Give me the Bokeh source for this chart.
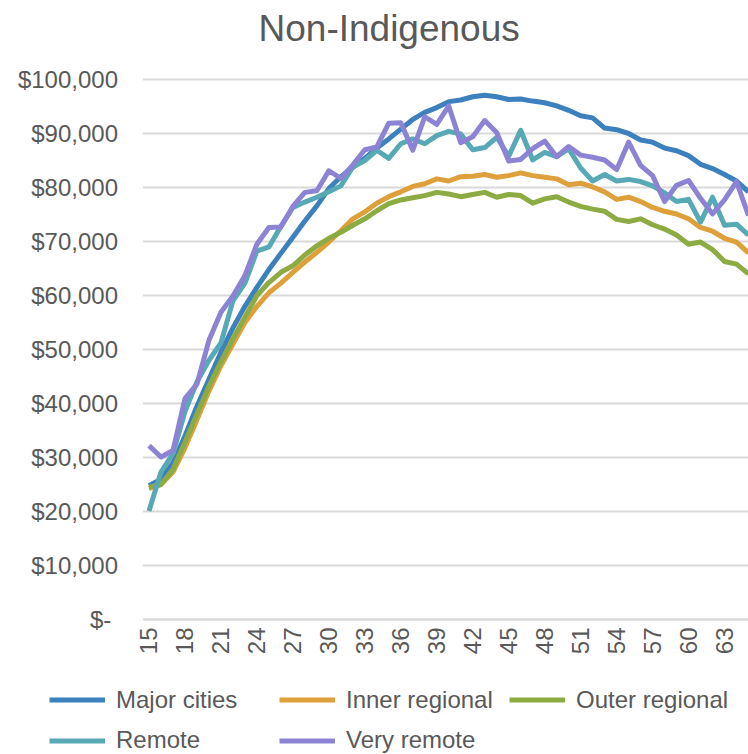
from bokeh.plotting import figure
from bokeh.models import FixedTicker, NumeralTickFormatter, Legend, LegendItem, Title
from bokeh.embed import file_html
from bokeh.resources import INLINE
import math

ages = [15, 16, 17, 18, 19, 20, 21, 22, 23, 24, 25, 26, 27, 28, 29, 30, 31, 32, 33, 34,
        35, 36, 37, 38, 39, 40, 41, 42, 43, 44, 45, 46, 47, 48, 49, 50, 51, 52, 53, 54,
        55, 56, 57, 58, 59, 60, 61, 62, 63, 64, 65]

major_cities = [24800, 26000, 29000, 34000, 39500, 44500, 49500, 54000, 58000, 61500,
                64800, 67800, 70800, 73800, 76600, 79800, 82000, 83700, 85400, 87300,
                89000, 90800, 92600, 93900, 94800, 95900, 96200, 96800, 97100, 96800,
                96300, 96400, 96000, 95700, 95100, 94300, 93300, 92900, 91000, 90700,
                90000, 88800, 88400, 87300, 86800, 85900, 84300, 83500, 82400, 81200, 79200]

inner_regional = [24300, 25000, 27300, 31800, 37000, 42300, 47000, 51000, 55000, 58000,
                  60500, 62300, 64300, 66200, 68000, 69900, 72000, 74200, 75500, 77100,
                  78300, 79200, 80200, 80700, 81600, 81200, 82000, 82100, 82400, 81900,
                  82200, 82700, 82200, 81900, 81600, 80500, 80800, 80100, 79200, 77800,
                  78200, 77400, 76300, 75600, 75100, 74200, 72600, 71900, 70600, 69900, 67900]

outer_regional = [24500, 25000, 27800, 32800, 38000, 43200, 47700, 52000, 56000, 60000,
                  62400, 64300, 65500, 67500, 69200, 70600, 71700, 73000, 74200, 75700,
                  77000, 77700, 78100, 78500, 79100, 78800, 78300, 78700, 79100, 78200,
                  78700, 78500, 77100, 77900, 78300, 77300, 76500, 76000, 75600, 74100,
                  73700, 74200, 73100, 72300, 71200, 69500, 69900, 68500, 66300, 65800, 64000]

remote = [20100, 27300, 30700, 38500, 44000, 48000, 51200, 59000, 62300, 68200,
          69000, 72800, 76300, 77300, 78200, 79200, 80300, 83800, 85000, 86900,
          85400, 88100, 89000, 88100, 89600, 90400, 89900, 87000, 87400, 89300,
          85800, 90600, 85100, 86500, 85700, 87200, 83600, 81200, 82400, 81200,
          81500, 81100, 80300, 79000, 77400, 77800, 73600, 78200, 73000, 73200, 71200]

very_remote = [32200, 30100, 31300, 40900, 43600, 51700, 56900, 59900, 63700, 69500,
               72600, 72700, 76500, 79100, 79400, 83100, 81700, 84200, 87000, 87500,
               91900, 92000, 86900, 93100, 91700, 95100, 88300, 89400, 92400, 90200,
               84900, 85200, 87200, 88600, 85700, 87600, 86000, 85600, 85100, 83300,
               88400, 84100, 82200, 77400, 80400, 81300, 78000, 75100, 77700, 81100, 74800]

series_names = ["Major cities", "Inner regional", "Outer regional", "Remote", "Very remote"]
series_values = [major_cities, inner_regional, outer_regional, remote, very_remote]
colors = ["#3C80BD", "#DDA03A", "#8CAB42", "#57A9B5", "#8D83D5"]

x_ticks = [15, 18, 21, 24, 27, 30, 33, 36, 39, 42, 45, 48, 51, 54, 57, 60, 63]
y_ticks = [0, 10000, 20000, 30000, 40000, 50000, 60000, 70000, 80000, 90000, 100000]

FONT = "Liberation Sans"
TXT = "#595959"
GRID = "#D9D9D9"

# plotting region spans the canvas below the title; axes are pinned inside it
# so the legend (clipped to the frame) can sit below the category labels
TOP = 57
X0, X1 = 2.615, 65.0                  # 14.5 lands ~142px from the left edge
Y0 = -25000                           # frame bottom, 135px below the zero line
Y1 = 100000 + (79 - TOP) / 540 * 100000  # 100k line at ~79px from the top

p = figure(width=748, height=754, output_backend="svg", toolbar_location=None,
           x_range=(X0, X1), y_range=(Y0, Y1),
           min_border_left=0, min_border_right=0, min_border_top=TOP,
           min_border_bottom=0)
p.outline_line_color = None
p.background_fill_color = "white"
p.border_fill_color = "white"

t = Title(text="Non-Indigenous", align="left", offset=258, standoff=14,
          vertical_align="top",
          text_font=FONT, text_font_size="37px", text_color=TXT,
          text_font_style="normal")
p.add_layout(t, "above")

p.xgrid.grid_line_color = None
p.ygrid.grid_line_color = None

# horizontal gridlines over the category span only
p.segment(x0=14.5, x1=X1, y0=y_ticks, y1=y_ticks, line_color=GRID, line_width=2)

xa = p.xaxis[0]
xa.fixed_location = 0
xa.bounds = (14.5, X1)
xa.ticker = FixedTicker(ticks=x_ticks)
xa.major_label_orientation = math.pi / 2
xa.major_label_standoff = 8
xa.major_tick_in = 0
xa.major_tick_out = 0
xa.minor_tick_in = 0
xa.minor_tick_out = 0
xa.axis_line_color = GRID
xa.axis_line_width = 2
xa.major_label_text_font = FONT
xa.major_label_text_font_size = "24px"
xa.major_label_text_color = TXT

ya = p.yaxis[0]
ya.fixed_location = 14.5
ya.bounds = (0, 100000)
ya.ticker = FixedTicker(ticks=y_ticks)
ya.formatter = NumeralTickFormatter(format="$0,0")
ya.major_label_overrides = {0: "$-\u00a0"}
ya.major_label_standoff = 25
ya.major_tick_in = 0
ya.major_tick_out = 0
ya.minor_tick_in = 0
ya.minor_tick_out = 0
ya.axis_line_color = None
ya.major_label_text_font = FONT
ya.major_label_text_font_size = "24px"
ya.major_label_text_color = TXT

renderers = []
for name, vals, col in zip(series_names, series_values, colors):
    renderers.append(p.line(ages, vals, line_color=col, line_width=5, line_join="round"))

common = dict(orientation="horizontal", padding=0, margin=0, spacing=10,
              border_line_color=None, background_fill_alpha=0,
              glyph_width=56, glyph_height=27, label_height=27, label_width=153,
              label_standoff=11, label_text_font=FONT,
              label_text_font_size="24px", label_text_color=TXT)
leg1 = Legend(items=[LegendItem(label=series_names[i], renderers=[renderers[i]]) for i in range(3)],
              location=(49, 40.5), **common)
leg2 = Legend(items=[LegendItem(label=series_names[i], renderers=[renderers[i]]) for i in range(3, 5)],
              location=(49, 0), **common)
p.add_layout(leg1, "center")
p.add_layout(leg2, "center")

open("out.html", "w").write(file_html(p, INLINE))
